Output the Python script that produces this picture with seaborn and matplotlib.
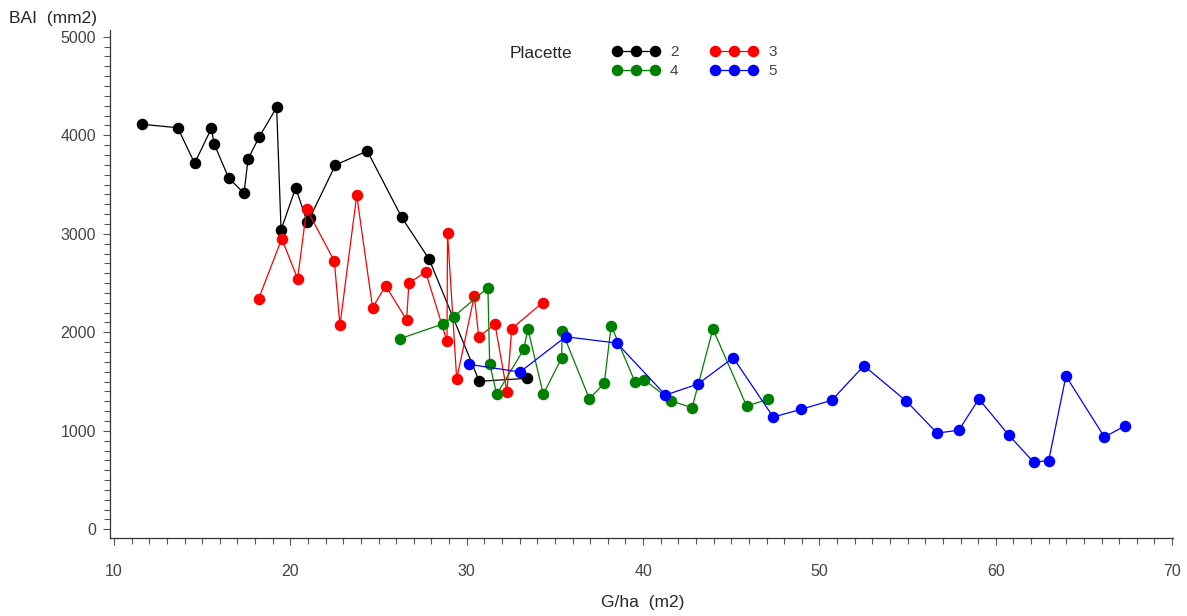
import numpy as np
import pandas as pd
import matplotlib
matplotlib.use("Agg")
import matplotlib.pyplot as plt
from matplotlib.ticker import MultipleLocator
import seaborn as sns

# Placette 2
g2 = [11.57, 13.61, 14.57, 15.52, 15.67, 16.50, 17.37, 17.60, 18.24, 19.22, 19.47, 20.30,
      20.95, 21.10, 22.55, 24.36, 26.31, 27.87, 30.71, 33.43]
b2 = [4112, 4077, 3716, 4071, 3914, 3567, 3411, 3760, 3986, 4284, 3039, 3468,
      3120, 3160, 3698, 3841, 3168, 2741, 1503, 1533]
# Placette 3
g3 = [18.20, 19.51, 20.41, 20.92, 22.49, 22.81, 23.76, 24.66, 25.40, 26.59, 26.72, 27.67,
      28.88, 28.91, 29.43, 30.43, 30.68, 31.60, 32.28, 32.55, 34.30]
b3 = [2341, 2950, 2544, 3252, 2724, 2071, 3391, 2250, 2473, 2125, 2500, 2612,
      1909, 3011, 1526, 2372, 1952, 2084, 1397, 2037, 2301]
# Placette 4
g4 = [26.21, 28.63, 29.26, 31.20, 31.30, 31.70, 33.23, 33.47, 34.34, 35.38, 35.41, 36.95,
      37.80, 38.19, 39.55, 40.08, 41.61, 42.78, 43.96, 45.87, 47.09]
b4 = [1935, 2084, 2159, 2453, 1681, 1371, 1827, 2033, 1371, 1739, 2010, 1326,
      1482, 2067, 1492, 1516, 1303, 1235, 2034, 1252, 1320]
# Placette 5
g5 = [30.12, 33.02, 35.61, 38.51, 41.27, 43.11, 45.11, 47.38, 48.95, 50.70, 52.52, 54.92,
      56.67, 57.90, 59.04, 60.75, 62.14, 63.00, 63.98, 66.16, 67.32]
b5 = [1675, 1597, 1955, 1891, 1363, 1475, 1742, 1140, 1218, 1310, 1661, 1303,
      978, 1005, 1323, 954, 683, 697, 1556, 937, 1049]

placettes = ["2", "3", "4", "5"]
colors = ["black", "red", "green", "blue"]

df = pd.concat([
    pd.DataFrame({"G": g, "BAI": b, "Placette": p})
    for g, b, p in zip([g2, g3, g4, g5], [b2, b3, b4, b5], placettes)
])

sns.set_style("white")
plt.rcParams["font.family"] = ["Liberation Sans", "DejaVu Sans"]

fig = plt.figure(figsize=(11.87, 6.16), dpi=100)
ax = fig.add_axes([110 / 1187, 78 / 616, 1063 / 1187, 508 / 616])

sns.lineplot(data=df, x="G", y="BAI", hue="Placette", hue_order=placettes,
             palette=colors, marker="o", markersize=8.3, markeredgewidth=0,
             linewidth=0.9, estimator=None, sort=True, ax=ax)

ax.set_xlim(9.77, 70.05)
ax.set_ylim(-88, 5069)
ax.xaxis.set_major_locator(MultipleLocator(10))
ax.xaxis.set_minor_locator(MultipleLocator(1))
ax.yaxis.set_major_locator(MultipleLocator(1000))
ax.yaxis.set_minor_locator(MultipleLocator(100))
for s in ["top", "right"]:
    ax.spines[s].set_visible(False)
for s in ["left", "bottom"]:
    ax.spines[s].set_color("#333333")
    ax.spines[s].set_linewidth(0.9)
ax.tick_params(which="both", direction="out", color="#555555", width=0.8,
               bottom=True, left=True)
ax.tick_params(which="major", length=5, labelsize=11.5, labelcolor="#444444")
ax.tick_params(axis="x", which="major", pad=14)
ax.tick_params(axis="y", which="major", pad=5)
ax.tick_params(which="minor", length=4)

ax.set_xlabel("")
ax.set_ylabel("")
fig.text(643 / 1187, 1 - 603 / 616, "G/ha  (m2)", ha="center", va="center", fontsize=12.5)
fig.text(9 / 1187, 1 - 18 / 616, "BAI  (mm2)", ha="left", va="center", fontsize=12.5)
fig.text(510 / 1187, 1 - 53 / 616, "Placette", ha="left", va="center", fontsize=12.5)

handles, labels = ax.get_legend_handles_labels()
order = [labels.index(p) for p in ["2", "4", "3", "5"]]
leg = ax.legend([handles[i] for i in order], [labels[i] for i in order],
                ncol=2, numpoints=3, frameon=False,
                loc="upper left", bbox_to_anchor=(612 / 1187, 1 - 45 / 616),
                bbox_transform=fig.transFigure, borderpad=0, borderaxespad=0,
                handlelength=3.1, handletextpad=0.7, columnspacing=2.1,
                labelspacing=0.35, prop={"size": 11})
for t in leg.get_texts():
    t.set_color("#444444")

fig.savefig("out.png", dpi=100)
